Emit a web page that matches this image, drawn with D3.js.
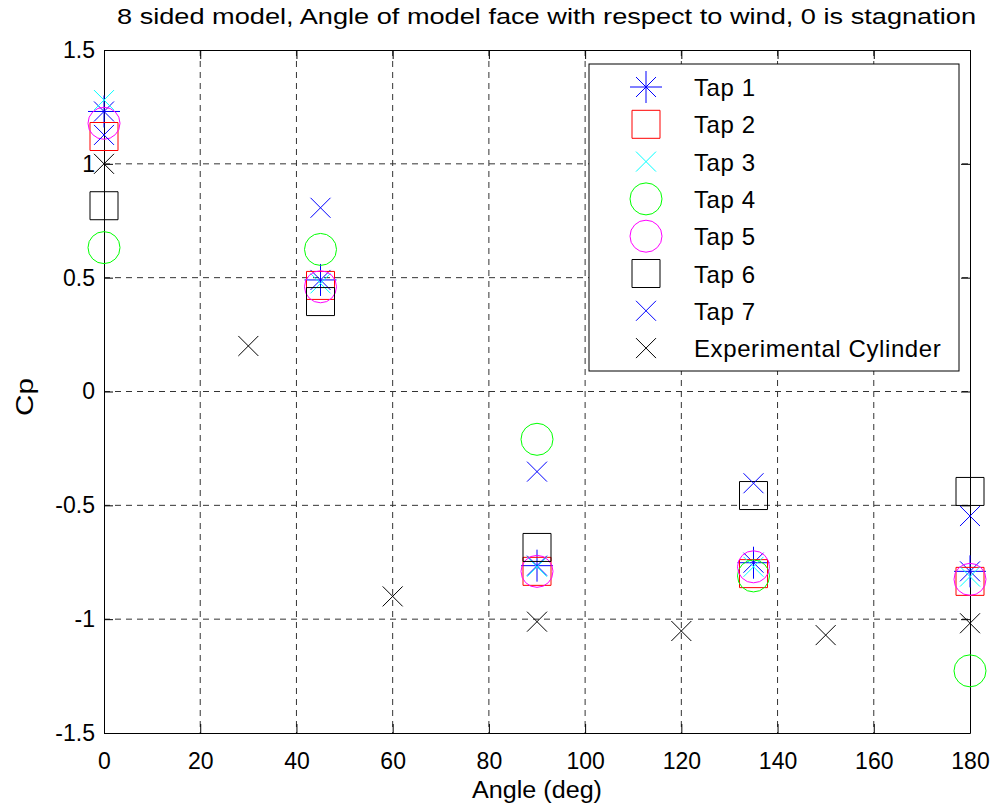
<!DOCTYPE html>
<html>
<head>
<meta charset="utf-8">
<script src="https://cdn.jsdelivr.net/npm/d3@7"></script>
<style>
body{margin:0;background:#fff;}
text{font-family:"Liberation Sans",Arial,sans-serif;fill:#000;}
</style>
</head>
<body>
<div id="chart"></div>
<script>
var angles=[0,45,90,135,180];
var tap1=[1.23,0.49,-0.765,-0.752,-0.79];
var tap2=[1.12,0.466,-0.79,-0.80,-0.834];
var tap3=[1.28,0.475,-0.77,-0.77,-0.813];
var tap4=[0.632,0.624,-0.21,-0.81,-1.227];
var tap5=[1.178,0.46,-0.79,-0.77,-0.825];
var tap6=[0.816,0.395,-0.685,-0.457,-0.439];
var tap7=[1.127,0.807,-0.352,-0.403,-0.547];
var cylAngles=[0,30,60,90,120,150,180];
var cyl=[1.0,0.2,-0.9,-1.011,-1.052,-1.07,-1.018];
var xTicks=[0,20,40,60,80,100,120,140,160,180];
var yTicks=[-1.5,-1,-0.5,0,0.5,1,1.5];
var seriesNames=["Tap 1","Tap 2","Tap 3","Tap 4","Tap 5","Tap 6","Tap 7","Experimental Cylinder"];

var width=998,height=805,
    margin={"left":104,"top":50,"right":28,"bottom":72},
    font_size=23;

var series=[
  {name:seriesNames[0],xs:angles,ys:tap1,color:"#0000ff",shape:"star"},
  {name:seriesNames[1],xs:angles,ys:tap2,color:"#ff0000",shape:"square"},
  {name:seriesNames[2],xs:angles,ys:tap3,color:"#00ffff",shape:"x"},
  {name:seriesNames[3],xs:angles,ys:tap4,color:"#00ff00",shape:"circle"},
  {name:seriesNames[4],xs:angles,ys:tap5,color:"#ff00ff",shape:"circle"},
  {name:seriesNames[5],xs:angles,ys:tap6,color:"#000000",shape:"square"},
  {name:seriesNames[6],xs:angles,ys:tap7,color:"#0000ff",shape:"x"},
  {name:seriesNames[7],xs:cylAngles,ys:cyl,color:"#000000",shape:"x"}
];

var svg=d3.select("#chart").append("svg")
    .attr("width",width).attr("height",height);

var x=d3.scaleLinear().domain([0,180]).range([margin.left,width-margin.right]);
var y=d3.scaleLinear().domain([-1.5,1.5]).range([height-margin.bottom,margin.top]);

// marker shapes
function marker(shape){
  if(shape=="square") return "M-14,-14H14V14H-14Z";
  if(shape=="x") return "M-10,-10L10,10M-10,10L10,-10";
  if(shape=="star") return "M-16,0H16M0,-16V16M-10,-10L10,10M-10,10L10,-10";
  return null;
}
function drawMarker(g,shape,color){
  if(shape=="circle"){
    g.append("circle").attr("r",16).attr("fill","none").attr("stroke",color).attr("stroke-width",1);
  } else {
    g.append("path").attr("d",marker(shape)).attr("fill","none").attr("stroke",color).attr("stroke-width",1);
  }
}

//网格
var grid=svg.append("g").attr("stroke","#333").attr("stroke-width",1).attr("stroke-dasharray","6,5");
grid.selectAll(".gx").data(xTicks.slice(1,-1)).enter().append("line")
    .attr("x1",d=>x(d)).attr("x2",d=>x(d)).attr("y1",y(1.5)).attr("y2",y(-1.5));
grid.selectAll(".gy").data(yTicks.slice(1,-1)).enter().append("line")
    .attr("y1",d=>y(d)).attr("y2",d=>y(d)).attr("x1",x(0)).attr("x2",x(180));

//坐标轴
var fmt=function(d){return String(d);};
svg.append("g").attr("transform","translate(0,"+y(-1.5)+")")
    .call(d3.axisBottom(x).tickValues(xTicks).tickSizeInner(-9).tickSizeOuter(0).tickPadding(20).tickFormat(fmt));
svg.append("g").attr("transform","translate("+x(0)+",0)")
    .call(d3.axisLeft(y).tickValues(yTicks).tickSizeInner(-9).tickSizeOuter(0).tickPadding(9).tickFormat(fmt));
svg.append("g").attr("transform","translate(0,"+y(1.5)+")")
    .call(d3.axisTop(x).tickValues(xTicks).tickSizeInner(-9).tickSizeOuter(0).tickFormat(""));
svg.append("g").attr("transform","translate("+x(180)+",0)")
    .call(d3.axisRight(y).tickValues(yTicks).tickSizeInner(-9).tickSizeOuter(0).tickFormat(""));
svg.selectAll(".domain").attr("stroke","#000");
svg.selectAll(".tick line").attr("stroke","#000");
svg.selectAll(".tick text").attr("font-size",font_size).style("font-family","Liberation Sans, Arial, sans-serif");

//标记点
series.forEach(function(s){
  var g=svg.append("g");
  s.xs.forEach(function(a,i){
    var m=g.append("g").attr("transform","translate("+x(a)+","+y(s.ys[i])+")");
    drawMarker(m,s.shape,s.color);
  });
});

//标题
svg.append("text").attr("x",546.5).attr("y",24).attr("text-anchor","middle")
    .attr("font-size",22).attr("textLength",859).attr("lengthAdjust","spacingAndGlyphs")
    .text("8 sided model, Angle of model face with respect to wind, 0 is stagnation");
svg.append("text").attr("x",537).attr("y",798).attr("text-anchor","middle")
    .attr("font-size",font_size).attr("textLength",130).attr("lengthAdjust","spacingAndGlyphs")
    .text("Angle (deg)");
svg.append("text").attr("transform","translate(33,397) rotate(-90)").attr("text-anchor","middle")
    .attr("font-size",font_size).attr("textLength",38).attr("lengthAdjust","spacingAndGlyphs")
    .text("Cp");

//图例
var legend=svg.append("g").attr("transform","translate(589,64)");
legend.append("rect").attr("width",370).attr("height",307).attr("fill","#fff").attr("stroke","#000").attr("stroke-width",1);
series.forEach(function(s,i){
  var row=legend.append("g").attr("transform","translate(0,"+(23+i*37.3)+")");
  var m=row.append("g").attr("transform","translate(57,0)");
  drawMarker(m,s.shape,s.color);
  row.append("text").attr("x",105).attr("y",9).attr("font-size",24).attr("letter-spacing",0.6).text(s.name);
});
</script>
</body>
</html>
